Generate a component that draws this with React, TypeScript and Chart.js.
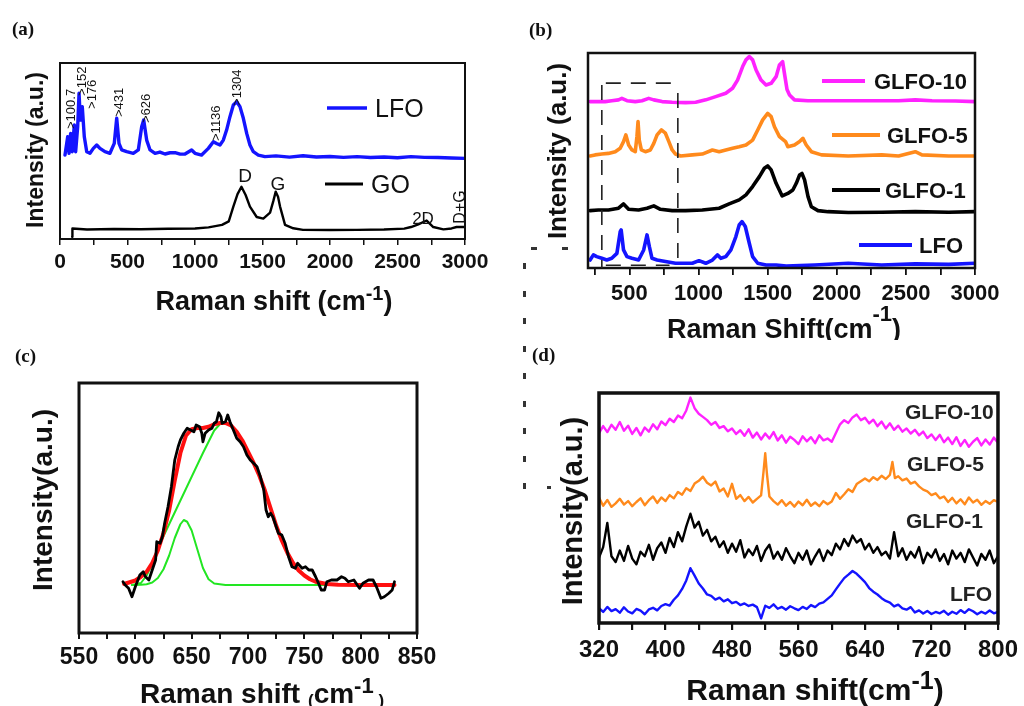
import React, { useEffect, useRef } from "react";
import { Chart, registerables } from "chart.js";
Chart.register(...registerables);

const SANS = '"Liberation Sans", Arial, Helvetica, sans-serif';
const SERIF = '"Liberation Serif", "Times New Roman", serif';
const BLUE = "#1414ff";
const MAGENTA = "#ff22ff";
const ORANGE = "#ff8a1c";
const BLACK = "#000000";
const RED = "#ff1010";
const GREEN = "#22e622";

// ---------------- Panel (a) ----------------
const aLfoX = [37,57,67,79,91,106,116,131,141,151,165,180,198,222,247,272,296,333,370,402,420,437,457,494,543,580,605,620,642,667,704,740,778,815,852,890,926,975,1000,1049,1099,1136,1160,1185,1210,1234,1259,1284,1309,1333,1358,1383,1407,1432,1469,1518,1600,1700,1800,1900,2000,2100,2200,2300,2400,2500,2600,2700,2800,2900,3000];
const aLfoY = [47.7,58.1,48.7,60.0,49.6,64.8,49.6,63.8,82.8,67.6,75.2,58.1,49.6,48.7,51.5,53.4,51.5,49.6,48.7,54.3,68.6,54.3,50.6,49.6,48.7,50.6,63.8,67.6,56.2,50.6,48.7,49.4,48.3,49.0,49.1,48.2,48.3,50.6,48.7,47.7,51.5,55.3,54.3,53.4,56.2,61.9,69.5,76.1,78.0,75.2,68.6,60.0,53.4,49.6,47.7,46.8,47.2,46.5,47.3,46.6,46.9,46.4,46.8,46.3,46.6,46.2,46.8,46.4,46.3,46.0,45.8];
const aGoX = [90,92,200,400,600,800,1000,1100,1200,1250,1284,1315,1344,1375,1407,1457,1506,1556,1580,1598,1615,1630,1667,1728,1800,2000,2200,2400,2550,2600,2654,2716,2765,2840,2900,2938,3000];
const aGoY = [1.3,6.0,5.4,5.7,5.5,5.8,6.0,6.6,8.0,10.0,18.4,25.5,29.7,25.0,18.4,12.5,11.6,15.0,21.5,26.9,24.0,18.4,8.0,6.1,5.2,5.1,5.2,5.4,5.9,6.8,8.3,10.5,6.8,5.5,6.0,6.8,6.8];
const aPeakLabels = ["100.7", "152", "176", "431", "626", "1136", "1304"];
const aTickValues = [0,250,500,750,1000,1250,1500,1750,2000,2250,2500,2750,3000];
const aTickLabels = [0, 500, 1000, 1500, 2000, 2500, 3000];

// ---------------- Panel (b) ----------------
const bGlfo10X = [215,275,324,372,421,445,482,542,591,639,676,736,809,906,979,1052,1124,1197,1246,1282,1319,1343,1367,1391,1416,1452,1488,1525,1561,1585,1608,1625,1640,1658,1694,1791,1961,2204,2447,2568,2689,2859,3000];
const bGlfo10Y = [77.4,77.4,77.4,77.8,78.2,78.9,77.8,77.4,77.8,78.9,78.2,77.4,77.1,76.9,77.1,78.2,79.7,81.3,83.6,87.4,93.7,96.8,98.3,96.8,92.1,87.4,85.1,85.9,89.0,94.4,96.0,89.0,83.0,80.5,78.2,77.8,77.8,77.8,77.8,78.2,77.8,77.7,77.4];
const bGlfo5X = [215,251,300,348,397,433,457,474,494,518,542,554,562,571,586,615,651,676,700,731,760,785,809,833,870,955,1027,1100,1149,1197,1246,1294,1343,1391,1428,1464,1500,1525,1549,1585,1629,1646,1694,1731,1755,1779,1816,1889,2083,2325,2447,2568,2616,2810,3000];
const bGlfo5Y = [52.1,52.6,53.0,53.3,54.1,55.7,58.8,61.9,57.2,54.9,54.1,61.1,68.1,59.5,54.9,54.1,54.9,58.0,61.9,64.2,62.7,58.8,54.9,53.0,52.1,52.6,53.0,54.9,54.1,54.9,55.7,56.4,57.2,59.5,64.2,68.9,71.9,70.4,65.7,61.1,58.8,56.4,57.2,58.8,60.3,57.2,54.1,52.6,52.1,52.6,52.1,54.1,52.6,52.1,52.1];
const bGlfo1X = [215,275,348,421,457,494,566,627,676,724,809,906,1027,1149,1221,1294,1343,1391,1440,1476,1500,1525,1561,1605,1646,1682,1707,1731,1748,1767,1792,1816,1864,1937,2083,2325,2568,2810,3000];
const bGlfo1Y = [26.7,27.0,27.0,27.8,29.8,27.3,27.0,27.8,28.9,27.3,26.7,26.7,27.0,27.8,29.8,31.7,34.0,37.9,42.5,46.4,47.5,45.6,39.4,33.5,34.7,36.3,39.4,43.3,44.0,41.0,33.2,28.5,26.7,26.2,25.8,25.9,26.2,25.9,26.2];
const bLfoX = [215,239,263,300,336,372,409,433,440,457,482,518,566,603,627,644,663,700,760,833,906,955,1003,1052,1100,1136,1161,1197,1234,1270,1294,1314,1338,1367,1391,1428,1488,1561,1634,1840,2083,2325,2568,2810,3000];
const bLfoY = [3.7,6.1,5.3,4.5,3.7,4.5,6.8,16.9,17.7,8.4,5.3,4.5,3.7,8.4,15.4,9.9,4.5,3.7,3.0,2.2,2.2,2.2,3.4,2.2,3.7,6.1,4.5,5.3,8.4,14.6,20.0,21.6,19.3,11.5,5.3,2.2,1.4,1.4,0.9,1.4,2.2,1.4,1.9,1.7,2.2];
const bSeriesNames = ["GLFO-10", "GLFO-5", "GLFO-1", "LFO"];
const bTickValues = [250,500,750,1000,1250,1500,1750,2000,2250,2500,2750,3000];
const bTickLabels = [500, 1000, 1500, 2000, 2500, 3000];
const bZoomRange = [300, 850];

// ---------------- Panel (c) ----------------
const cDataX = [589,591,594,597,600,604,607,609,612,615,618,619,622,624,626,629,632,635,638,640,643,646,649,652,654,657,659,660,662,665,668,670,672,674,676,677,680,682,684,687,690,693,696,699,702,705,708,711,714,716,718,720,722,724,727,730,733,736,739,742,744,748,751,754,757,760,762,765,768,770,774,779,783,786,789,794,797,799,802,807,811,814,818,821,825,828,830];
const cDataY = [20.5,19.2,17.9,14.5,18.5,23.2,24.5,22.5,21.2,25.2,29.2,36.5,35.9,38.5,43.9,50.5,58.5,69.2,74.5,77.2,79.9,81.9,81.2,80.5,83.2,82.5,79.9,76.5,79.9,81.2,81.9,83.9,84.5,88.1,86.5,83.9,84.5,87.2,84.5,81.2,77.9,76.5,74.5,71.2,69.2,67.9,66.5,62.5,57.2,49.2,46.5,47.9,46.5,43.9,39.9,39.2,35.9,30.5,26.5,25.9,27.9,25.9,26.5,25.2,25.2,22.5,20.5,17.2,17.2,20.5,21.2,21.2,22.5,21.9,20.5,21.2,19.2,17.9,19.9,21.2,21.2,18.5,13.9,14.5,15.9,17.2,20.5];
const cFitX = [590,600,605,610,615,620,625,630,635,640,645,650,655,660,665,670,675,680,685,690,695,700,705,710,715,720,725,730,735,740,745,750,755,760,770,780,800,830];
const cFitY = [19.6,21.0,22.5,24.5,28.0,33.0,40.0,49.0,61.0,72.0,79.0,81.5,82.0,82.0,82.5,83.5,84.0,84.0,83.0,80.5,77.0,72.5,68.0,63.0,57.0,50.0,43.0,37.0,32.0,28.0,25.0,23.0,21.5,20.5,19.6,19.3,19.2,19.2];
const cPeak1X = [597,605,610,615,620,625,630,635,640,643,646,650,655,660,665,670,680,700,771];
const cPeak1Y = [19.2,19.3,19.5,20.2,22.0,25.5,31.0,38.0,43.5,45.2,44.5,41.0,33.5,26.0,21.5,19.8,19.2,19.2,19.2];
const cPeak2X = [597,605,610,615,620,630,640,650,660,665,670,675,680,685,690,700,710,720,730,740,750,760,771];
const cPeak2Y = [19.2,20.0,23.0,27.5,34.0,43.5,53.0,62.5,72.0,76.5,81.0,83.5,84.0,83.0,80.5,72.5,63.0,50.0,37.0,28.0,23.0,20.5,19.2];
const cTickValues = [550,575,600,625,650,675,700,725,750,775,800,825,850];
const cTickLabels = [550, 600, 650, 700, 750, 800, 850];

// ---------------- Panel (d) ----------------
const dX = [320,325,330,335,340,345,350,355,360,365,370,375,380,385,390,395,400,405,410,415,420,425,430,435,440,445,450,455,460,465,470,475,480,485,490,495,500,505,510,515,520,525,530,535,540,545,550,555,560,565,570,575,580,585,590,595,600,605,610,615,620,625,630,635,640,645,650,655,660,665,670,675,680,685,690,695,700,705,710,715,720,725,730,735,740,745,750,755,760,765,770,775,780,785,790,795,800];
const dLfoY = [6.5,4.8,7.0,5.2,6.0,4.5,6.8,5.0,4.2,6.1,5.4,3.8,5.9,6.6,5.5,7.4,8.2,7.6,10.1,12.0,14.8,18.5,23.8,20.6,17.2,15.0,12.4,11.8,10.2,11.0,9.4,10.3,8.6,9.2,7.8,8.5,7.4,8.0,6.9,2.0,7.5,6.6,8.1,6.2,7.0,5.8,7.3,6.4,5.6,7.0,6.1,7.8,6.9,8.4,9.0,10.5,12.0,14.6,17.1,19.5,21.0,22.6,21.4,19.6,17.8,15.2,13.6,12.4,10.8,9.6,8.9,7.2,8.0,6.4,5.8,6.9,4.6,5.5,4.1,5.2,3.9,4.8,4.2,5.3,3.6,4.9,4.0,5.6,4.4,6.0,5.1,3.8,4.9,4.1,5.4,4.2,4.8];
const dGlfo1Y = [28.5,33.0,43.5,29.0,26.5,31.5,27.0,33.5,28.0,25.5,31.0,29.0,34.0,27.5,32.5,35.0,30.5,37.0,33.0,39.5,35.5,42.0,47.5,41.5,44.0,38.0,40.5,35.5,37.5,33.0,35.5,30.5,34.5,31.0,36.0,28.5,32.0,29.5,33.5,27.0,31.5,34.0,28.0,31.0,27.5,32.5,29.0,26.0,30.5,27.5,31.5,25.5,29.0,32.0,27.0,31.5,29.5,34.5,32.0,36.5,33.5,38.0,35.0,36.5,32.0,34.5,30.5,33.0,29.5,31.0,28.0,39.5,29.0,32.5,27.5,31.0,28.5,33.0,26.0,30.5,28.5,32.0,27.0,30.0,25.5,31.5,28.0,30.5,26.5,32.0,28.5,25.0,30.0,27.5,31.5,26.0,29.0];
const dGlfo10Y = [82.5,85.6,83.0,86.2,84.0,87.4,83.6,85.8,82.2,84.8,81.6,85.0,83.2,86.4,84.2,87.6,86.0,88.8,87.4,90.2,89.0,92.4,98.0,93.4,91.0,89.6,88.2,86.2,87.4,84.8,85.6,83.4,84.6,82.2,83.8,81.4,84.2,80.6,82.8,79.8,82.4,80.2,83.0,79.4,81.6,78.4,81.0,79.6,77.8,81.2,79.0,80.8,78.2,81.6,79.4,80.2,78.8,82.6,86.4,88.2,87.0,89.4,90.6,88.2,89.2,86.8,88.4,85.6,87.6,84.6,86.8,84.0,85.8,83.2,84.6,82.4,84.0,81.6,83.2,80.4,82.0,79.6,81.8,78.6,80.6,77.8,80.8,77.0,79.6,76.6,78.8,80.4,77.2,79.8,77.6,80.6,78.4];
const dGlfo5X = [320,325,330,335,340,345,350,355,360,365,370,375,380,385,390,395,400,405,410,415,420,425,430,435,440,445,450,455,460,465,470,475,480,485,490,495,500,505,510,515,518,520,522,525,530,535,540,545,550,555,560,565,570,575,580,585,590,595,600,605,610,615,620,625,630,635,640,645,650,655,660,665,670,673,676,680,685,690,695,700,705,710,715,720,725,730,735,740,745,750,755,760,765,770,775,780,785,790,795,800];
const dGlfo5Y = [54.5,51.0,53.5,50.5,52.0,54.0,51.5,53.0,50.8,52.6,54.2,51.2,53.4,55.0,52.2,54.6,53.0,55.6,54.2,57.0,55.8,58.6,57.4,60.6,61.8,63.6,61.0,59.8,61.5,57.2,58.5,55.0,60.5,54.0,55.6,53.0,54.8,52.4,54.0,55.5,66.0,73.8,65.0,55.0,53.0,51.5,53.4,51.0,52.6,50.6,52.8,51.2,53.6,51.0,52.4,50.8,53.0,51.6,52.8,56.5,54.0,56.0,58.2,57.0,60.4,61.6,62.8,61.6,63.4,62.2,64.0,62.6,64.4,70.0,63.0,63.8,62.0,62.8,60.6,61.4,59.4,58.0,57.2,55.6,56.4,54.2,55.0,52.6,54.4,52.0,53.8,51.6,54.6,52.4,53.6,51.4,53.0,51.8,53.4,52.6];
const dTickValues = [320,360,400,440,480,520,560,600,640,680,720,760,800];
const dTickLabels = [320, 400, 480, 560, 640, 720, 800];

// ---------------- helpers ----------------
type Seg = { t: string; s: number; dy?: number };

function txt(ctx: any, t: string, x: number, y: number, size: number, o: any = {}) {
  ctx.save();
  ctx.translate(x, y);
  if (o.rot) ctx.rotate(o.rot);
  ctx.font = `${o.weight ?? "bold"} ${size}px ${o.family ?? SANS}`;
  ctx.fillStyle = o.color ?? "#111";
  ctx.textAlign = o.align ?? "left";
  ctx.textBaseline = "alphabetic";
  ctx.fillText(t, 0, size * 0.36);
  ctx.restore();
}

function rich(ctx: any, segs: Seg[], cx: number, cy: number, rot = 0) {
  ctx.save();
  ctx.translate(cx, cy);
  if (rot) ctx.rotate(rot);
  ctx.fillStyle = "#111";
  ctx.textBaseline = "alphabetic";
  ctx.textAlign = "left";
  const main = Math.max(...segs.map((s) => s.s));
  let total = 0;
  const ws = segs.map((s) => {
    ctx.font = `bold ${s.s}px ${SANS}`;
    const w = ctx.measureText(s.t).width;
    total += w;
    return w;
  });
  let x = -total / 2;
  segs.forEach((s, i) => {
    ctx.font = `bold ${s.s}px ${SANS}`;
    ctx.fillText(s.t, x, main * 0.36 + (s.dy ?? 0));
    x += ws[i];
  });
  ctx.restore();
}

function seg(ctx: any, x0: number, x1: number, y: number, color: string, w: number) {
  ctx.save();
  ctx.strokeStyle = color;
  ctx.lineWidth = w;
  ctx.beginPath();
  ctx.moveTo(x0, y);
  ctx.lineTo(x1, y);
  ctx.stroke();
  ctx.restore();
}

function series(xs: number[], ys: number[], color: string, width: number) {
  return {
    data: xs.map((x, i) => ({ x, y: ys[i] })),
    borderColor: color,
    backgroundColor: color,
    borderWidth: width,
    pointRadius: 0,
    fill: false,
    tension: 0,
    borderJoinStyle: "round",
    borderCapStyle: "round",
  };
}

type Axis = { min: number; max: number; ticks: number[]; labels: number[]; font: number; tickLen: number; tickPad: number; tickW: number };

function buildConfig(datasets: any[], axis: Axis, padding: any, boxW: number, draw: (ctx: any, chart: any) => void) {
  return {
    type: "line",
    data: { datasets },
    options: {
      responsive: false,
      animation: false,
      events: [],
      layout: { padding },
      plugins: { legend: { display: false }, tooltip: { enabled: false } },
      scales: {
        x: {
          type: "linear",
          min: axis.min,
          max: axis.max,
          afterBuildTicks: (s: any) => {
            s.ticks = axis.ticks.map((value) => ({ value }));
          },
          afterFit: (s: any) => {
            s.height = 40;
          },
          border: { display: false },
          grid: { display: true, drawOnChartArea: false, drawTicks: true, tickLength: axis.tickLen, color: "#111", lineWidth: axis.tickW },
          ticks: {
            autoSkip: false,
            maxRotation: 0,
            minRotation: 0,
            padding: axis.tickPad,
            color: "#111",
            font: { family: SANS, size: axis.font, weight: "bold" },
            callback: (v: any) => (axis.labels.includes(Number(v)) ? String(v) : ""),
          },
        },
        y: { type: "linear", display: false, min: 0, max: 100 },
      },
    },
    plugins: [
      {
        id: "decor",
        afterDraw(chart: any) {
          const ctx = chart.ctx;
          const a = chart.chartArea;
          ctx.save();
          ctx.strokeStyle = "#111";
          ctx.lineWidth = boxW;
          ctx.strokeRect(a.left, a.top, a.right - a.left, a.bottom - a.top);
          ctx.restore();
          ctx.save();
          draw(ctx, chart);
          ctx.restore();
        },
      },
    ],
  };
}

// ---------------- panel configs ----------------
const peakStyle = [
  { dx: -3.5, v: 62.5 },
  { dx: 0.5, v: 81.3 },
  { dx: 8, v: 73.9 },
  { dx: 0, v: 69.3 },
  { dx: 0.5, v: 65.9 },
  { dx: 1.5, v: 55.7 },
  { dx: 0.5, v: 75.6 },
];

function configA() {
  return buildConfig(
    [series(aLfoX, aLfoY, BLUE, 3.4), series(aGoX, aGoY, BLACK, 2.4)],
    { min: 0, max: 3000, ticks: aTickValues, labels: aTickLabels, font: 21, tickLen: 6, tickPad: 5, tickW: 1.5 },
    { left: 60, right: 47, top: 63, bottom: 51 },
    2,
    (ctx, chart) => {
      const xs = chart.scales.x;
      const ys = chart.scales.y;
      txt(ctx, "(a)", 12, 28, 19, { family: SERIF });
      txt(ctx, "Intensity (a.u.)", 35, 150, 23, { align: "center", rot: -Math.PI / 2 });
      rich(ctx, [{ t: "Raman shift (cm", s: 27 }, { t: "-1", s: 20, dy: -10 }, { t: ")", s: 27 }], 274, 300);
      seg(ctx, 327, 367, 108, BLUE, 3.5);
      txt(ctx, "LFO", 375, 108, 25, { weight: "normal" });
      seg(ctx, 325, 363, 184, BLACK, 3);
      txt(ctx, "GO", 371, 184, 25, { weight: "normal" });
      txt(ctx, "D", 245, 175, 19, { weight: "normal", align: "center" });
      txt(ctx, "G", 278, 183, 19, { weight: "normal", align: "center" });
      txt(ctx, "2D", 423, 218, 17, { weight: "normal", align: "center" });
      txt(ctx, "D+G", 459, 207, 16, { weight: "normal", align: "center", rot: -Math.PI / 2 });
      aPeakLabels.forEach((lab, i) => {
        const x = xs.getPixelForValue(Number(lab)) + peakStyle[i].dx;
        const y = ys.getPixelForValue(peakStyle[i].v);
        txt(ctx, ">" + lab, x, y, 13, { weight: "normal", rot: -Math.PI / 2 });
      });
    }
  );
}

function configB() {
  return buildConfig(
    [
      series(bGlfo10X, bGlfo10Y, MAGENTA, 3.6),
      series(bGlfo5X, bGlfo5Y, ORANGE, 3.6),
      series(bGlfo1X, bGlfo1Y, BLACK, 3.6),
      series(bLfoX, bLfoY, BLUE, 3.6),
    ],
    { min: 200, max: 3000, ticks: bTickValues, labels: bTickLabels, font: 22, tickLen: 7, tickPad: 6, tickW: 1.8 },
    { left: 76, right: 49, top: 53, bottom: 32 },
    2.5,
    (ctx, chart) => {
      const xs = chart.scales.x;
      const ys = chart.scales.y;
      txt(ctx, "(b)", 17, 29, 19, { family: SERIF });
      txt(ctx, "Intensity (a.u.)", 45, 151, 26, { align: "center", rot: -Math.PI / 2 });
      rich(ctx, [{ t: "Raman Shift(cm", s: 27 }, { t: "-1", s: 22, dy: -17 }, { t: ")", s: 27 }], 272, 328);
      const colors = [MAGENTA, ORANGE, BLACK, BLUE];
      const legPos = [
        { x0: 310, x1: 353, y: 81, tx: 362 },
        { x0: 320, x1: 368, y: 135, tx: 375 },
        { x0: 320, x1: 368, y: 190, tx: 373 },
        { x0: 347, x1: 400, y: 245, tx: 407 },
      ];
      bSeriesNames.forEach((n, i) => {
        const p = legPos[i];
        seg(ctx, p.x0, p.x1, p.y, colors[i], 4);
        txt(ctx, n, p.tx, p.y, 22, {});
      });
      // dashed zoom box
      const xa = xs.getPixelForValue(bZoomRange[0]);
      const xb = xs.getPixelForValue(bZoomRange[1]);
      const yTop = ys.getPixelForValue(86);
      const yTopR = ys.getPixelForValue(81.4);
      const yBot = ys.getPixelForValue(1.3);
      ctx.save();
      ctx.strokeStyle = "#222";
      ctx.lineWidth = 1.6;
      ctx.setLineDash([15, 10]);
      ctx.beginPath();
      ctx.moveTo(xa + 4, yTop);
      ctx.lineTo(xb, yTop);
      ctx.moveTo(xa, yTop + 2);
      ctx.lineTo(xa, ys.getPixelForValue(0));
      ctx.moveTo(xb, yTopR);
      ctx.lineTo(xb, ys.getPixelForValue(0));
      ctx.moveTo(xa + 4, yBot);
      ctx.lineTo(xs.getPixelForValue(790), yBot);
      ctx.stroke();
      ctx.restore();
    }
  );
}

function configC() {
  return buildConfig(
    [
      series(cDataX, cDataY, BLACK, 2.8),
      series(cFitX, cFitY, RED, 4),
      series(cPeak1X, cPeak1Y, GREEN, 2),
      series(cPeak2X, cPeak2Y, GREEN, 2),
    ],
    { min: 550, max: 850, ticks: cTickValues, labels: cTickLabels, font: 23, tickLen: 6, tickPad: 5, tickW: 2 },
    { left: 79, right: 95, top: 53, bottom: 33 },
    3,
    (ctx) => {
      txt(ctx, "(c)", 15, 25, 19, { family: SERIF });
      txt(ctx, "Intensity(a.u.)", 42, 170, 28, { align: "center", rot: -Math.PI / 2 });
      rich(
        ctx,
        [
          { t: "Raman shift ", s: 28 },
          { t: "(", s: 17, dy: 3 },
          { t: "cm", s: 28 },
          { t: "-1", s: 22, dy: -10 },
          { t: " )", s: 17, dy: 3 },
        ],
        262,
        363
      );
    }
  );
}

function configD() {
  return buildConfig(
    [
      series(dX, dGlfo10Y, MAGENTA, 2.4),
      series(dGlfo5X, dGlfo5Y, ORANGE, 2.4),
      series(dX, dGlfo1Y, BLACK, 2.4),
      series(dX, dLfoY, BLUE, 2.4),
    ],
    { min: 320, max: 800, ticks: dTickValues, labels: dTickLabels, font: 24, tickLen: 7, tickPad: 6, tickW: 2.2 },
    { left: 87, right: 23, top: 53, bottom: 43 },
    3.5,
    (ctx) => {
      txt(ctx, "(d)", 20, 14, 19, { family: SERIF });
      txt(ctx, "Intensity(a.u.)", 60, 171, 29, { align: "center", rot: -Math.PI / 2 });
      rich(ctx, [{ t: "Raman shift(cm", s: 30 }, { t: "-1", s: 25, dy: -11 }, { t: ")", s: 30 }], 303, 349);
      const labPos = [
        { x: 393, y: 71 },
        { x: 395, y: 123 },
        { x: 394, y: 180 },
        { x: 438, y: 253 },
      ];
      bSeriesNames.forEach((n, i) => txt(ctx, n, labPos[i].x, labPos[i].y, 21, { color: "#222" }));
    }
  );
}

function Panel({ left, top, width, height, make }: any) {
  const ref = useRef<HTMLCanvasElement>(null);
  useEffect(() => {
    const chart = new Chart(ref.current as HTMLCanvasElement, make() as any);
    return () => chart.destroy();
  }, []);
  return (
    <canvas
      ref={ref}
      width={width}
      height={height}
      style={{ position: "absolute", left, top, width, height, display: "block" }}
    />
  );
}

export default function App() {
  return (
    <div style={{ position: "absolute", left: 0, top: 0, width: 1024, height: 706, background: "#fff", overflow: "hidden" }}>
      <Panel left={0} top={0} width={512} height={330} make={configA} />
      <Panel left={512} top={0} width={512} height={340} make={configB} />
      <Panel left={0} top={330} width={512} height={376} make={configC} />
      <Panel left={512} top={340} width={512} height={366} make={configD} />
      <div
        style={{
          position: "absolute",
          left: 523,
          top: 263,
          width: 3,
          height: 232,
          background: "repeating-linear-gradient(to bottom, #333 0px, #333 6px, transparent 6px, transparent 27.5px)",
        }}
      />
      <div style={{ position: "absolute", left: 531, top: 247, width: 6, height: 3, background: "#333" }} />
      <div style={{ position: "absolute", left: 562, top: 247, width: 6, height: 3, background: "#333" }} />
      <div style={{ position: "absolute", left: 547, top: 486, width: 4, height: 3, background: "#333" }} />
    </div>
  );
}
